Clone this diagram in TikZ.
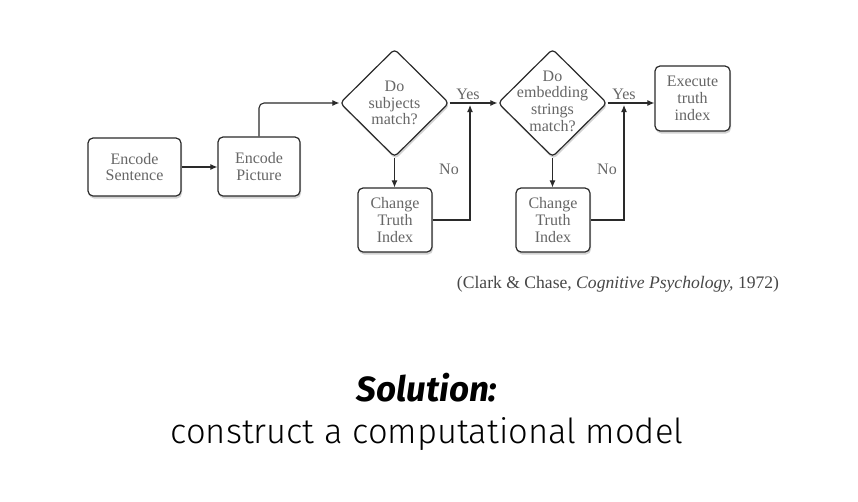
\documentclass[tikz,border=0pt]{standalone}
\usepackage{fontspec}
\setmainfont{Liberation Serif}
\newfontfamily\solfont{Fira Sans}
\newfontfamily\lightfont{Fira Sans Light}
\usetikzlibrary{shapes.geometric,arrows.meta,shadows}
\definecolor{txtgray}{HTML}{666666}
\definecolor{linegray}{HTML}{2a2a2a}
\begin{document}
\begin{tikzpicture}[x=1pt,y=-1pt,
  boxtext/.style={font=\fontsize{16}{16.7}\selectfont, text=txtgray, align=center},
  procbox/.style={boxtext, draw=linegray, line width=1.2pt, fill=white, rounded corners=5pt,
     inner sep=0pt, drop shadow={opacity=0.35, shadow xshift=1pt, shadow yshift=-2.5pt}},
  decision/.style={diamond, draw=linegray, line width=1.2pt, fill=white, rounded corners=4pt,
     inner sep=0pt, minimum width=109pt, minimum height=108pt,
     drop shadow={opacity=0.35, shadow xshift=1pt, shadow yshift=-2.5pt}},
  arr/.style={draw=linegray, line width=1.1pt, -{Latex[length=7pt,width=6pt]}},
  lbl/.style={boxtext}
]
\useasboundingbox (0,0) rectangle (858,501);
\fill[white] (0,0) rectangle (858,501);

\node[procbox, minimum width=93pt, minimum height=58pt] (es) at (134.5,167) {Encode\\Sentence};
\node[procbox, minimum width=82pt, minimum height=59pt] (ep) at (259,166.5) {Encode\\Picture};
\node[decision] (d1) at (394.5,103) {};
\node[boxtext] (d1t) at (d1.center) {Do\\subjects\\match?};
\node[procbox, minimum width=74pt, minimum height=64pt] (c1) at (395,220) {Change\\Truth\\Index};
\node[decision] (d2) at (552.5,103) {};
\node[boxtext] (d2t) at ([yshift=2pt]d2.center) {Do\\embedding\\strings\\match?};
\node[procbox, minimum width=74pt, minimum height=64pt] (c2) at (553,220) {Change\\Truth\\Index};
\node[procbox, minimum width=75pt, minimum height=65pt] (ex) at (692.5,98.5) {Execute\\truth\\index};

\coordinate (j1) at (470,105);
\coordinate (j2) at (624,105);

\draw[arr] (es.east) -- (es.east -| ep.west);
\draw[arr, rounded corners=5pt] (ep.north) |- (d1.west);
\draw[arr] (d1.south) -- (d1.south |- c1.north);
\draw[arr] (c1.east) -| (j1);
\draw[arr] (d1.east) -- (d2.west);
\draw[arr] (d2.south) -- (d2.south |- c2.north);
\draw[arr] (c2.east) -| (j2);
\draw[arr] (d2.east) -- (d2.east -| ex.west);

\node[lbl] (y1) at (468,94) {Yes};
\node[lbl] (n1) at (449,169) {No};
\node[lbl] (y2) at (624,94) {Yes};
\node[lbl] (n2) at (607,169) {No};

\node[font=\fontsize{17.6}{19}\selectfont, text=black!72] (cite) at (618,284)
  {(Clark \& Chase, \textit{Cognitive Psychology,} 1972)};

\node[font=\solfont\fontsize{35}{38}\selectfont\bfseries\itshape, text=black] (sol) at (427,388) {Solution:};
\node[font=\lightfont\fontsize{34.5}{38}\selectfont, text=black] (cons) at (427,434) {construct a computational model};
\end{tikzpicture}
\end{document}
